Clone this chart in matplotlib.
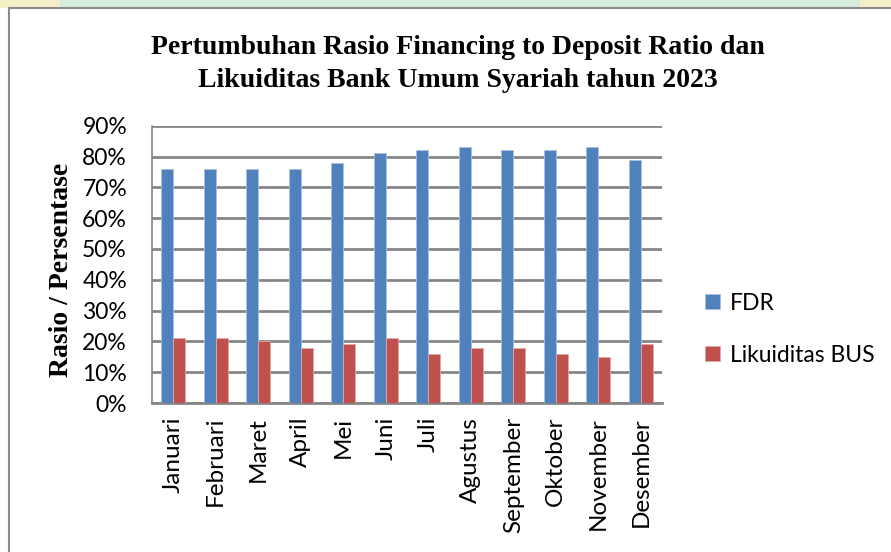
import numpy as np
import matplotlib.pyplot as plt
from matplotlib.patches import Rectangle
from matplotlib.lines import Line2D

# ----------------------------
# Data
# ----------------------------
bulan = [
    "Januari", "Februari", "Maret", "April", "Mei", "Juni",
    "Juli", "Agustus", "September", "Oktober", "November", "Desember"
]
fdr = [76, 76, 76, 76, 78, 81, 82, 83, 82, 82, 83, 79]
likuiditas_bus = [21, 21, 20, 18, 19, 21, 16, 18, 18, 16, 15, 19]
y_ticks = [0, 10, 20, 30, 40, 50, 60, 70, 80, 90]

blue = "#4F81BD"
red = "#C0504D"
grid_gray = "#868686"

sans = ["Lato", "DejaVu Sans"]
serif = ["Liberation Serif", "DejaVu Serif"]

W, H = 891, 552

# ----------------------------
# Figure + frame
# ----------------------------
fig = plt.figure(figsize=(W / 100, H / 100), dpi=100)
fig.patch.set_facecolor("white")

# pale band along the top edge
band = 8 / H
fig.add_artist(Rectangle((0, 1 - band), 1, band, transform=fig.transFigure,
                         facecolor="#d6ecdd", edgecolor="none"))
fig.add_artist(Rectangle((0, 1 - band), 60 / W, band, transform=fig.transFigure,
                         facecolor="#f4f0c8", edgecolor="none"))
fig.add_artist(Rectangle((860 / W, 1 - band), 31 / W, band,
                         transform=fig.transFigure,
                         facecolor="#f4f0c8", edgecolor="none"))

# chart border (left and top)
fig.add_artist(Line2D([9 / W, 9 / W], [0, 1 - band],
                      transform=fig.transFigure, color="#8c8c8c", lw=1.5))
fig.add_artist(Line2D([9 / W, 1], [1 - band, 1 - band],
                      transform=fig.transFigure, color="#8c8c8c", lw=1.5))

# plot area
left, right = 152 / W, 662 / W
top, bottom = 1 - 125.7 / H, 1 - 403 / H
ax = fig.add_axes([left, bottom, right - left, top - bottom])

x = np.arange(len(bulan))
w = 0.285

ax.bar(x - w / 2, fdr, w, color=blue, edgecolor="#a9c1e0",
       linewidth=0.6, label="FDR", zorder=3)
ax.bar(x + w / 2, likuiditas_bus, w, color=red, edgecolor="#e0a9a7",
       linewidth=0.6, label="Likuiditas BUS", zorder=3)

ax.set_xlim(-0.5, len(bulan) - 0.5)
ax.set_ylim(0, 90)
ax.set_yticks(y_ticks)
ax.set_yticklabels([f"{v}%" for v in y_ticks], fontfamily=sans, fontsize=16.5)
ax.set_xticks(x)
ax.set_xticklabels(bulan, rotation=90, fontfamily=sans, fontsize=17.5)

ax.yaxis.grid(True, color=grid_gray, linewidth=2, zorder=0)
ax.set_axisbelow(True)
ax.tick_params(axis="both", length=0)
ax.tick_params(axis="y", pad=18)
ax.tick_params(axis="x", pad=10)

for side in ["top", "right"]:
    ax.spines[side].set_visible(False)
ax.spines["left"].set_color(grid_gray)
ax.spines["left"].set_linewidth(1.2)
ax.spines["bottom"].set_color(grid_gray)
ax.spines["bottom"].set_linewidth(2)

ax.set_ylabel("Rasio / Persentase", fontfamily=serif, fontweight="bold",
              fontsize=20, va="center")
ax.yaxis.set_label_coords(-0.178, 0.48)

# ----------------------------
# Title
# ----------------------------
fig.text(458 / W, 1 - 64 / H,
         "Pertumbuhan Rasio Financing to Deposit Ratio dan\n"
         "Likuiditas Bank Umum Syariah tahun 2023",
         ha="center", va="center", fontfamily=serif, fontweight="bold",
         fontsize=20, linespacing=1.4)

# ----------------------------
# Legend
# ----------------------------
fig.legend(loc="upper left", bbox_to_anchor=(684 / W, 1 - 272 / H),
           frameon=False, prop={"family": sans, "size": 16.5},
           handlelength=0.65, handleheight=0.65, handletextpad=0.45,
           labelspacing=1.35)

fig.savefig("out.png", dpi=100, facecolor="white")
